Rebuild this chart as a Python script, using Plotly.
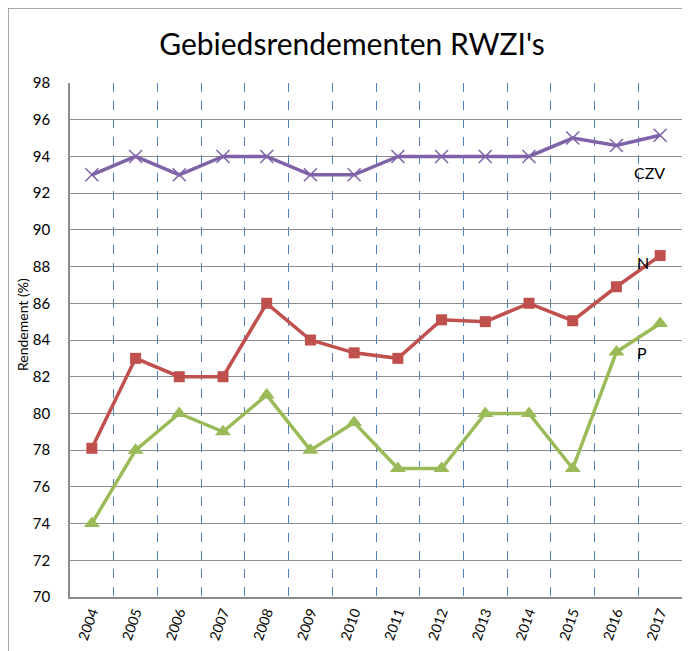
import plotly.graph_objects as go

years = ["2004", "2005", "2006", "2007", "2008", "2009", "2010", "2011",
         "2012", "2013", "2014", "2015", "2016", "2017"]
czv = [93, 94, 93, 94, 94, 93, 93, 94, 94, 94, 94, 95, 94.6, 95.15]
n_vals = [78.1, 83, 82, 82, 86, 84, 83.3, 83, 85.1, 85.0, 86, 85.05, 86.9, 88.6]
p_vals = [74, 78, 80, 79, 81, 78, 79.5, 77, 77, 80, 80, 77, 83.35, 84.9]
y_ticks = [70, 72, 74, 76, 78, 80, 82, 84, 86, 88, 90, 92, 94, 96, 98]

FONT = "Lato"

fig = go.Figure()
fig.add_trace(go.Scatter(x=years, y=czv, mode="lines+markers", name="CZV",
                         line=dict(color="#7F62A8", width=3.5),
                         marker=dict(symbol="x-thin", size=13,
                                     line=dict(color="#7F62A8", width=1.5))))
fig.add_trace(go.Scatter(x=years, y=n_vals, mode="lines+markers", name="N",
                         line=dict(color="#C0504D", width=3.5),
                         marker=dict(symbol="square", size=11, color="#C0504D")))
fig.add_trace(go.Scatter(x=years, y=p_vals, mode="lines+markers", name="P",
                         line=dict(color="#9BBB59", width=3.5),
                         marker=dict(symbol="triangle-up", size=14, color="#9BBB59")))

# page body has an 8px margin, so figure coords = window coords - 8
fig.update_layout(
    width=690, height=651,
    margin=dict(l=62, r=16, t=75, b=62, autoexpand=False),
    paper_bgcolor="white", plot_bgcolor="white",
    showlegend=False,
    font=dict(family=FONT, color="black"),
    title=dict(text="Gebiedsrendementen RWZI's", x=344 / 690, xanchor="center",
               y=1 - 36 / 651, yanchor="middle",
               font=dict(family=FONT, size=30, color="black")),
)

fig.update_xaxes(
    type="category", range=[-0.5, 13.5],
    tickson="boundaries", ticks="", tickangle=-70,
    tickfont=dict(size=14, family=FONT),
    showgrid=True, gridcolor="#4F81BD", griddash="dash", gridwidth=1,
    showline=True, linecolor="#8C8C8C", linewidth=1.5, mirror=False,
    zeroline=False,
)
fig.update_yaxes(
    range=[70, 98], tickvals=y_ticks, ticktext=[str(v) for v in y_ticks],
    ticks="", ticklabelstandoff=15,
    tickfont=dict(size=15, family=FONT),
    showgrid=True, gridcolor="#8C8C8C", gridwidth=1,
    showline=True, linecolor="#8C8C8C", linewidth=1.5,
    zeroline=False,
)

# y-axis title as annotation (placed like the original, slightly above centre)
fig.add_annotation(xref="paper", yref="paper",
                   x=(14 - 62) / 612, y=(589 - 317) / 514,
                   text="Rendement (%)", textangle=-90, showarrow=False,
                   xanchor="center", yanchor="middle",
                   font=dict(size=14, family=FONT, color="black"))

# outer chart border
fig.add_shape(type="rect", xref="paper", yref="paper",
              x0=(0 - 62) / 612, x1=(700 - 62) / 612,
              y0=(589 - 700) / 514, y1=(589 - 0) / 514,
              line=dict(color="#8C8C8C", width=1.5), fillcolor="rgba(0,0,0,0)",
              layer="below")

for label, xi, yv in [("CZV", 12.75, 93.1), ("N", 12.6, 88.2), ("P", 12.58, 83.3)]:
    fig.add_annotation(x=xi, y=yv, xref="x", yref="y", text=label, showarrow=False,
                       font=dict(size=16, family=FONT, color="black"))

fig.write_html("out.html")
